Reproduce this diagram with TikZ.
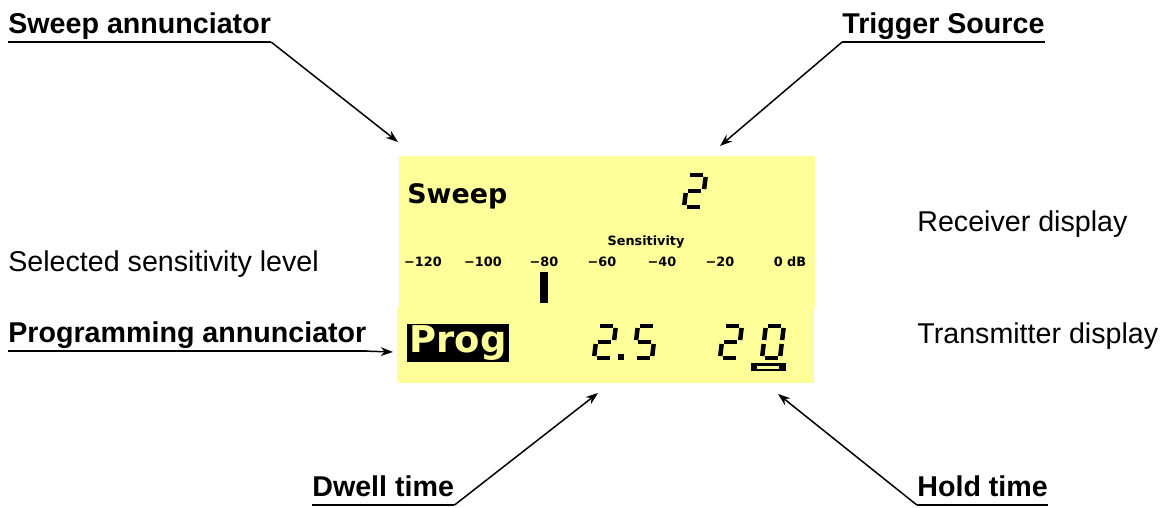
\documentclass[tikz,border=0pt]{standalone}
\usepackage{fontspec}
\setmainfont{Liberation Sans}
\newfontfamily\lcdfont{DejaVu Sans}
\usetikzlibrary{arrows.meta}

\definecolor{lcdyellow}{RGB}{255,255,153}

% segments of one LCD digit (origin bottom left, pixel units)
\def\segA{(2.5,-32) -- (15.5,-32)}
\def\segB{(18,-30) -- (18,-18)}
\def\segC{(18,-14) -- (18,-2)}
\def\segD{(2.5,0) -- (15.5,0)}
\def\segE{(0,-14) -- (0,-2)}
\def\segF{(0,-30) -- (0,-18)}
\def\segG{(2.5,-16) -- (15.5,-16)}

\tikzset{
  callout/.style={font=\fontsize{16.3}{19}\selectfont\bfseries, anchor=base west, inner sep=0pt},
  note/.style={font=\fontsize{16.3}{19}\selectfont, anchor=base west, inner sep=0pt},
  pointer/.style={line width=0.85pt, -{Stealth[length=7pt,width=5pt]}},
  uline/.style={line width=1.1pt},
  dbmark/.style={font=\lcdfont\bfseries\fontsize{7.3}{8}\selectfont, inner sep=0pt},
  seg/.style={line width=0.09cm, line cap=butt},
  digit/.pic={
    \begin{scope}[xslant=0.12]
      \foreach \s in {#1} {\draw[seg] \csname seg\s\endcsname;}
    \end{scope}
  }
}

\begin{document}
\begin{tikzpicture}[x=0.02cm, y=-0.02cm]
  \useasboundingbox (0,0) rectangle (1166,507);

  % display panels
  \fill[lcdyellow] (399,156) rectangle (815,307);
  \fill[lcdyellow] (397,307) rectangle (814,383);

  % receiver display
  \node[font=\lcdfont\bfseries\fontsize{15.3}{18}\selectfont, anchor=base west, inner sep=0pt]
    (sweep) at (407,203) {Sweep};
  \pic at (684,207) {digit={A,B,G,E,D}};
  \node[dbmark] (sens) at (646,242) {Sensitivity};
  \foreach \x/\t [count=\i] in {423/−120, 483/−100, 544/−80, 602/−60, 662/−40, 720/−20, 790/0 dB}
    \node[dbmark] (db\i) at (\x,262) {\t};
  \fill (540,272) rectangle (548,303);

  % transmitter display
  \node[fill=black, text=lcdyellow, font=\lcdfont\bfseries\fontsize{21}{23}\selectfont,
    minimum width=2.04cm, minimum height=0.76cm, inner sep=0pt] (prog) at (458,343) {Prog};
  \pic at (594,358) {digit={A,B,G,E,D}};
  \fill (618,354) rectangle (624,360);
  \pic at (634,358) {digit={A,F,G,C,D}};
  \pic at (720,358) {digit={A,B,G,E,D}};
  \pic at (762,358) {digit={A,B,C,D,E,F}};
  \fill (751,363) rectangle (786,371);
  \fill[lcdyellow] (757,365.5) rectangle (779,368.5);

  % labels
  \node[callout] (sweeplbl) at (8,33) {Sweep annunciator};
  \node[callout] (triglbl) at (842,33) {Trigger Source};
  \node[note] (senslbl) at (8,271) {Selected sensitivity level};
  \node[callout] (proglbl) at (8,342) {Programming annunciator};
  \node[callout] (dwelllbl) at (312,496) {Dwell time};
  \node[callout] (holdlbl) at (917,496) {Hold time};
  \node[note] (rxlbl) at (917,231) {Receiver display};
  \node[note] (txlbl) at (917,343) {Transmitter display};

  % arrow tips
  \coordinate (sweeptip) at (398,142);
  \coordinate (trigtip) at (720,146);
  \coordinate (progtip) at (393,352);
  \coordinate (dwelltip) at (598,393);
  \coordinate (holdtip) at (778,394);

  % underlines and pointers
  \foreach \n in {sweeplbl,triglbl,proglbl,dwelllbl,holdlbl}
    \draw[uline] ([yshift=-5.2pt]\n.base west) -- ([yshift=-5.2pt]\n.base east);
  \draw[pointer] ([yshift=-5.2pt]sweeplbl.base east) -- (sweeptip);
  \draw[pointer] ([yshift=-5.2pt]triglbl.base west) -- (trigtip);
  \draw[pointer] ([yshift=-5.2pt]proglbl.base east) -- (progtip);
  \draw[pointer] ([yshift=-5.2pt]dwelllbl.base east) -- (dwelltip);
  \draw[pointer] ([yshift=-5.2pt]holdlbl.base west) -- (holdtip);
\end{tikzpicture}
\end{document}
